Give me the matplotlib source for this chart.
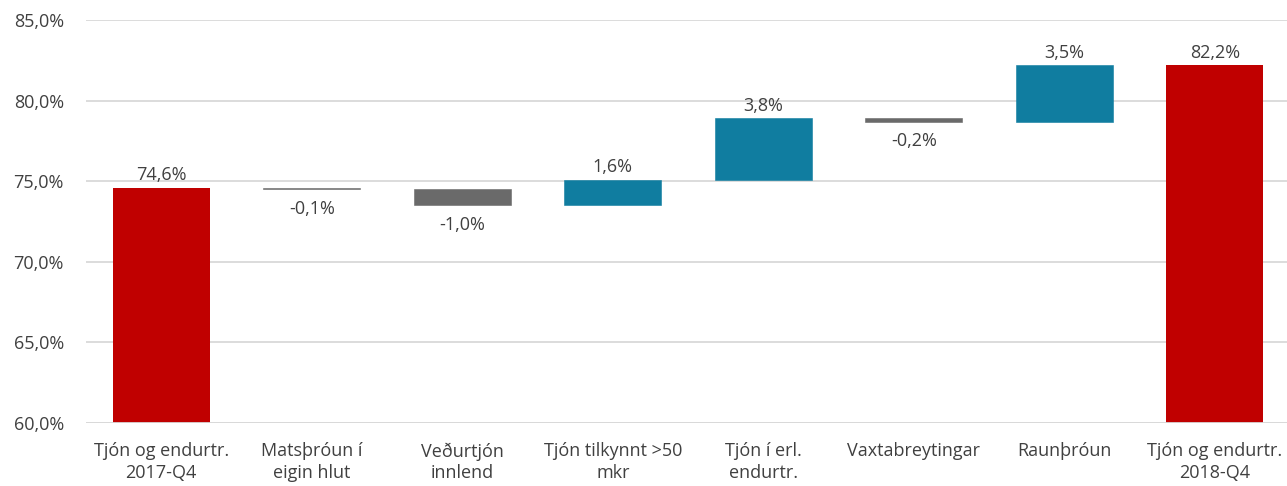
import numpy as np
import matplotlib.pyplot as plt

categories = ['Tjón og endurtr.\n2017-Q4', 'Matsþróun í\neigin hlut', 'Veðurtjón\ninnlend',
              'Tjón tilkynnt >50\nmkr', 'Tjón í erl.\nendurtr.', 'Vaxtabreytingar',
              'Raunþróun', 'Tjón og endurtr.\n2018-Q4']
start_value = 74.6
changes = [-0.1, -1.0, 1.6, 3.8, -0.2, 3.5]
end_value = 82.2

red = '#C00000'
teal = '#107DA0'
grey = '#6A6A6A'
txt = '#404040'
fs = 13

plt.rcParams['font.family'] = ['Open Sans', 'DejaVu Sans']

fig = plt.figure(figsize=(12.87, 4.86), dpi=100)
ax = fig.add_axes([86 / 1287, 1 - 423 / 486, 1 - 86 / 1287, (423 - 20) / 486])

ymin = 60.0
width = 0.645

def fmt(v):
    return ('%.1f%%' % v).replace('.', ',')

# first total bar
ax.bar(0, start_value - ymin, bottom=ymin, width=width, color=red, zorder=2)
ax.text(0, start_value + 0.2, fmt(start_value), ha='center', va='bottom', color=txt, fontsize=fs)

level = start_value
for i, c in enumerate(changes, start=1):
    lo = min(level, level + c)
    col = teal if c > 0 else grey
    ax.bar(i, abs(c), bottom=lo, width=width, color=col, edgecolor=col, linewidth=0.4, zorder=2)
    if c > 0:
        ax.text(i, level + c + 0.2, fmt(c), ha='center', va='bottom', color=txt, fontsize=fs)
    else:
        ax.text(i, level + c - 0.65, fmt(c), ha='center', va='top', color=txt, fontsize=fs)
    level += c

n = len(categories) - 1
ax.bar(n, end_value - ymin, bottom=ymin, width=width, color=red, zorder=2)
ax.text(n, end_value + 0.2, fmt(end_value), ha='center', va='bottom', color=txt, fontsize=fs)

ax.set_ylim(60, 85)
ax.set_xlim(-0.5, 7.48)
yt = np.arange(60, 86, 5)
ax.set_yticks(yt)
ax.set_yticklabels([fmt(v) for v in yt], color=txt, fontsize=fs)
ax.set_xticks(range(len(categories)))
ax.set_xticklabels(categories, color=txt, fontsize=fs, linespacing=1.25)
ax.tick_params(length=0)
ax.tick_params(axis='x', pad=14)
ax.tick_params(axis='y', pad=16)
ax.grid(axis='y', color='#D9D9D9', linewidth=1.3)
ax.set_axisbelow(True)
for s in ax.spines.values():
    s.set_visible(False)
ax.axhline(60, color='#D9D9D9', linewidth=1.3, zorder=3)

fig.savefig('out.png', dpi=100)
